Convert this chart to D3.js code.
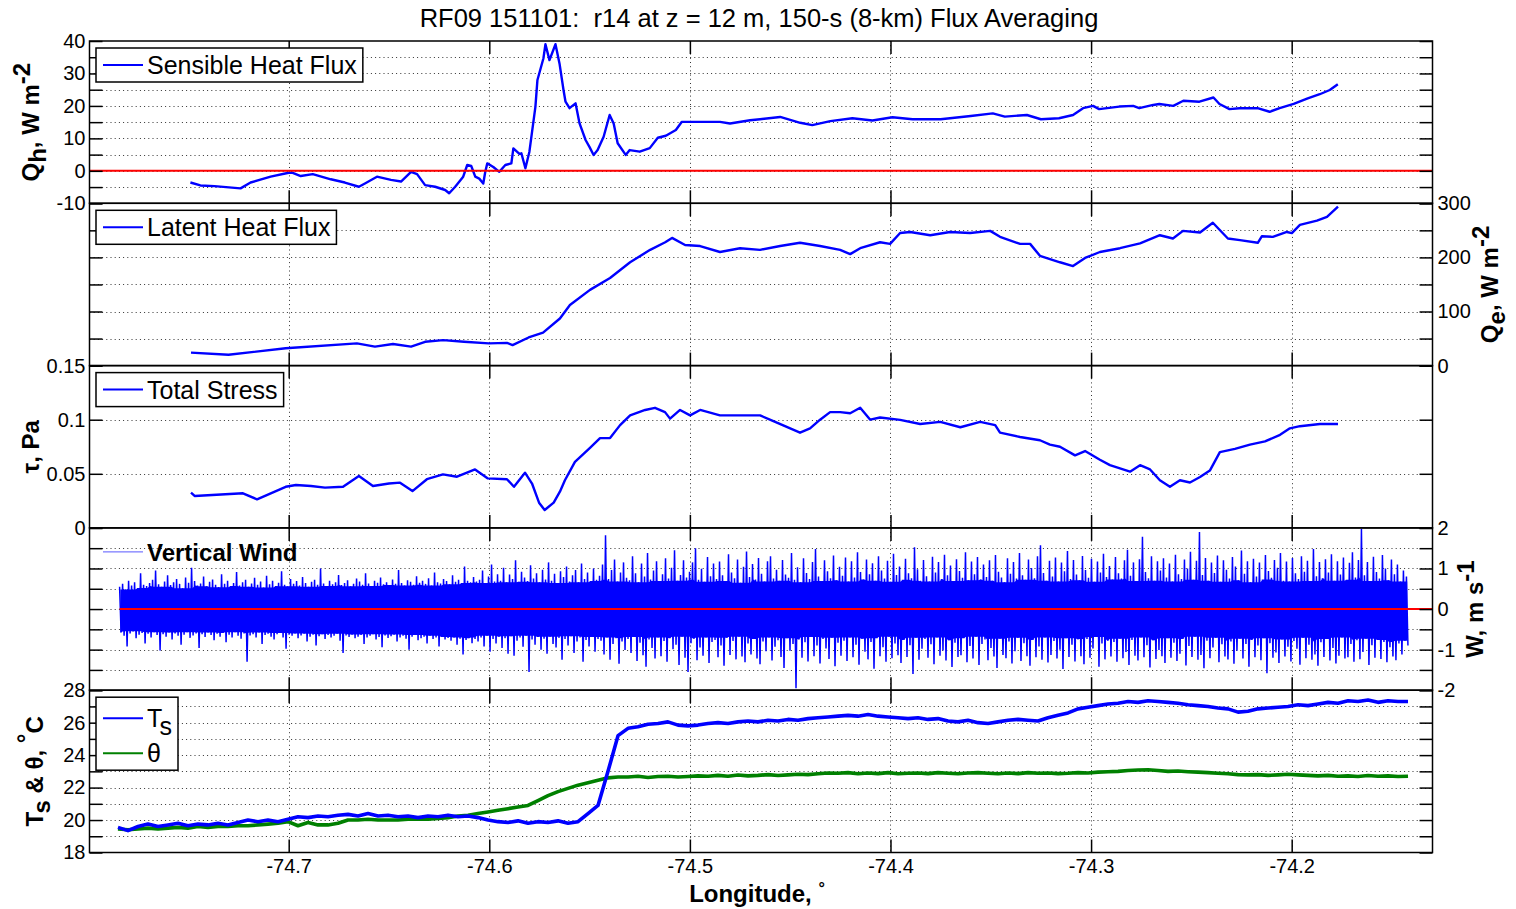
<!DOCTYPE html>
<html><head><meta charset="utf-8">
<script src="https://cdn.jsdelivr.net/npm/d3@7"></script>
<style>
body{margin:0;background:#fff;}
text{font-family:"Liberation Sans",Arial,Helvetica,sans-serif;}
</style></head><body>
<svg id="chart" width="1516" height="909"></svg>
<script>
// ---------------- data ----------------
const lonDomain = [-74.7993, -74.1298];
const lonTicks = [-74.7, -74.6, -74.5, -74.4, -74.3, -74.2];

// Sensible heat flux, W m-2
const qhLon = [-74.749,-74.744,-74.737,-74.724,-74.719,-74.709,-74.700,-74.698,-74.694,-74.688,
  -74.679,-74.672,-74.665,-74.662,-74.656,-74.649,-74.644,-74.639,-74.636,-74.632,
  -74.627,-74.622,-74.620,-74.617,-74.613,-74.611,-74.609,-74.607,-74.605,-74.603,
  -74.602,-74.601,-74.598,-74.595,-74.592,-74.589,-74.588,-74.585,-74.584,-74.582,
  -74.580,-74.577,-74.576,-74.573,-74.572,-74.570,-74.567,-74.565,-74.563,-74.562,
  -74.560,-74.557,-74.555,-74.552,-74.550,-74.548,-74.546,-74.543,-74.540,-74.538,
  -74.536,-74.532,-74.530,-74.525,-74.520,-74.516,-74.512,-74.507,-74.504,-74.495,
  -74.485,-74.480,-74.470,-74.465,-74.455,-74.445,-74.439,-74.430,-74.419,-74.409,
  -74.399,-74.389,-74.375,-74.360,-74.349,-74.343,-74.332,-74.325,-74.316,-74.309,
  -74.304,-74.299,-74.296,-74.286,-74.279,-74.276,-74.269,-74.266,-74.259,-74.254,
  -74.246,-74.239,-74.236,-74.231,-74.226,-74.217,-74.211,-74.206,-74.199,-74.192,
  -74.186,-74.181,-74.177];
const qhVal = [-3.6,-4.5,-4.7,-5.4,-3.6,-1.8,-0.6,-0.6,-1.6,-1.0,
  -2.6,-3.6,-4.9,-3.9,-1.8,-2.8,-3.3,-0.3,-1.0,-4.4,
  -4.9,-5.9,-6.9,-4.9,-1.8,1.8,1.5,-1.8,-2.4,-3.9,
  -0.3,2.3,1.2,-0.3,1.8,2.3,6.9,5.2,5.4,0.8,
  5.9,19.8,28.0,34.7,39.0,34.1,39.0,33.1,24.9,21.3,
  19.3,20.8,14.6,9.5,7.3,4.9,6.4,10.5,17.2,14.6,
  8.5,4.9,6.4,5.9,7.0,10.2,10.8,12.6,15.1,15.1,
  15.1,14.6,15.6,15.9,16.6,14.8,14.1,15.3,16.2,15.5,
  16.5,15.9,15.9,16.9,17.7,16.7,17.2,15.9,16.2,17.2,
  19.3,20.0,19.0,19.8,20.0,19.3,20.3,20.6,20.0,21.6,
  21.3,22.6,20.6,19.0,19.3,19.3,18.2,19.3,20.6,22.3,
  23.6,24.9,26.7];

// Latent heat flux, W m-2
const qeLon = [-74.7487,-74.730,-74.7015,-74.666,-74.657,-74.648,-74.639,-74.632,-74.623,-74.6126,
  -74.6002,-74.5912,-74.5884,-74.5804,-74.5732,-74.5648,-74.5598,-74.5498,-74.5398,-74.5298,
  -74.5198,-74.5123,-74.5089,-74.5024,-74.4949,-74.4850,-74.4750,-74.4650,-74.4550,-74.4451,
  -74.4351,-74.4251,-74.4201,-74.4151,-74.4052,-74.4002,-74.3952,-74.3902,-74.3802,-74.3703,
  -74.3603,-74.3503,-74.3454,-74.3354,-74.3304,-74.3255,-74.3155,-74.3090,-74.3030,-74.2956,
  -74.2856,-74.2756,-74.2657,-74.2592,-74.2542,-74.2457,-74.2393,-74.2318,-74.2258,-74.2169,
  -74.2149,-74.2094,-74.2024,-74.1999,-74.1959,-74.1874,-74.1824,-74.1769];
const qeVal = [24,20,32,41,35,40,35,44,47,44,
  41,42,38,52,61,87,112,140,162,191,
  214,228,236,223,221,210,217,214,221,227,
  221,214,206,217,228,225,245,247,241,247,
  245,249,238,225,225,203,191,184,199,210,
  217,226,241,235,249,246,264,235,232,227,
  239,238,247,245,260,268,275,294];

// Total stress, Pa
const tauLon = [-74.7487,-74.7469,-74.7228,-74.7158,-74.7015,-74.6964,-74.6889,-74.6819,-74.6729,-74.6650,
  -74.6580,-74.6500,-74.6445,-74.6383,-74.6311,-74.6231,-74.6161,-74.6071,-74.6009,-74.5912,
  -74.5877,-74.5822,-74.5787,-74.5752,-74.5724,-74.5679,-74.5648,-74.5623,-74.5573,-74.5498,
  -74.5448,-74.5398,-74.5348,-74.5298,-74.5223,-74.5174,-74.5124,-74.5099,-74.5049,-74.4999,
  -74.4949,-74.4850,-74.4750,-74.4650,-74.4575,-74.4500,-74.4451,-74.4401,-74.4351,-74.4301,
  -74.4251,-74.4201,-74.4151,-74.4101,-74.4052,-74.3952,-74.3852,-74.3752,-74.3652,-74.3553,
  -74.3478,-74.3454,-74.3354,-74.3255,-74.3205,-74.3155,-74.3080,-74.3030,-74.2956,-74.2906,
  -74.2806,-74.2756,-74.2706,-74.2657,-74.2607,-74.2557,-74.2507,-74.2457,-74.2408,-74.2358,
  -74.2283,-74.2208,-74.2133,-74.2058,-74.2009,-74.1959,-74.1859,-74.1769];
const tauVal = [0.0326,0.0295,0.032,0.0264,0.038,0.0397,0.0387,0.0372,0.038,0.048,
  0.0387,0.041,0.0418,0.034,0.045,0.0495,0.0473,0.054,0.0458,0.045,
  0.038,0.051,0.041,0.0233,0.0165,0.0233,0.0335,0.044,0.061,0.074,
  0.083,0.083,0.095,0.104,0.109,0.111,0.107,0.101,0.109,0.104,
  0.109,0.104,0.104,0.104,0.098,0.092,0.088,0.092,0.100,0.107,
  0.107,0.106,0.111,0.100,0.102,0.0998,0.096,0.098,0.093,0.098,
  0.095,0.088,0.084,0.081,0.077,0.075,0.067,0.071,0.063,0.058,
  0.052,0.058,0.054,0.044,0.038,0.044,0.042,0.047,0.053,0.070,
  0.073,0.077,0.080,0.086,0.092,0.094,0.096,0.096];

// Vertical wind, m s-1: upper and lower extremes of each sample bin,
// bins evenly spaced between wLonStart and wLonEnd
const wLonStart = -74.7843, wLonEnd = -74.1413;
const wHi = [
  0.55,0.62,0.48,0.70,0.58,0.66,0.52,0.88,0.60,0.57,
  0.64,0.72,0.95,0.61,0.55,0.68,0.83,0.59,0.66,0.74,
  0.62,0.51,0.78,0.65,1.02,0.69,0.58,0.63,0.80,0.56,
  0.67,0.73,0.60,0.54,0.86,0.62,0.70,0.57,0.64,0.91,
  0.58,0.66,0.72,0.55,0.63,0.77,0.60,0.68,0.53,0.82,
  0.61,0.70,0.57,0.65,0.93,0.60,0.56,0.74,0.62,0.69,
  0.58,0.79,0.64,0.55,0.67,0.72,0.60,1.00,0.63,0.57,
  0.70,0.61,0.66,0.84,0.59,0.64,0.71,0.56,0.62,0.75,
  0.68,0.60,0.88,0.63,0.57,0.70,0.65,0.78,0.61,0.66,
  0.59,0.73,0.62,0.96,0.64,0.58,0.71,0.67,0.60,0.81,
  0.65,0.70,0.62,0.76,0.58,0.90,0.66,0.63,0.74,0.69,
  0.61,0.83,0.67,0.72,0.64,1.05,0.70,0.66,0.79,0.68,
  0.72,0.95,0.64,0.80,1.10,0.68,0.86,0.70,1.02,0.66,
  0.85,0.74,1.20,0.67,0.92,0.78,0.69,1.08,0.75,0.88,
  0.66,0.97,0.73,1.15,0.70,0.87,0.64,0.93,0.79,1.05,
  0.68,0.83,0.96,0.66,1.12,0.74,0.90,0.69,1.00,0.72,
  0.82,1.10,1.82,0.74,0.96,1.22,0.68,0.90,1.15,0.77,
  0.71,1.30,0.88,0.66,1.12,0.80,1.38,0.73,0.95,1.18,
  0.69,0.86,1.25,0.75,1.02,1.45,0.70,0.84,1.20,0.78,
  0.92,1.15,1.50,0.72,0.99,0.67,1.28,0.81,1.12,0.74,
  1.17,0.83,0.69,1.35,0.90,0.76,1.22,0.65,1.04,1.42,
  0.79,1.11,0.73,1.26,0.87,0.68,1.18,1.30,0.75,0.97,
  0.70,1.21,0.85,0.77,1.38,0.72,1.03,0.66,1.25,0.89,
  0.74,1.16,1.48,0.80,0.69,1.20,0.93,0.76,1.32,0.71,
  1.04,0.82,1.27,0.68,1.18,0.78,1.40,0.91,0.73,1.22,
  0.86,1.13,0.70,1.30,0.95,0.75,1.19,0.67,1.36,0.84,
  1.05,0.72,1.24,0.88,0.76,1.52,0.98,0.70,1.21,0.81,
  0.68,1.29,0.90,1.16,0.74,1.34,0.83,1.07,0.69,1.23,
  0.94,0.77,1.40,0.71,1.17,0.86,1.28,0.73,1.10,0.79,
  1.20,0.70,1.33,0.92,0.78,0.66,1.25,0.87,1.16,0.75,
  1.38,0.83,0.72,1.22,1.01,0.76,1.30,1.57,0.89,0.70,
  1.19,0.80,1.27,0.68,1.15,0.93,1.43,0.74,1.21,0.85,
  0.71,1.31,0.96,0.77,1.24,0.67,1.17,0.90,1.36,0.79,
  1.06,0.73,1.28,0.88,0.75,1.20,1.46,0.82,1.15,0.69,
  1.23,1.78,0.91,0.76,1.30,0.70,1.18,0.95,1.25,0.78,
  1.12,0.68,1.34,0.86,0.74,1.22,1.00,1.41,0.72,1.19,
  1.90,0.84,1.26,0.70,1.15,0.89,1.32,0.67,1.20,0.97,
  0.75,1.28,1.05,0.71,1.44,0.87,1.18,0.66,1.24,0.80,
  1.15,0.73,1.33,0.94,0.77,1.21,1.02,1.38,0.70,1.17,
  0.68,1.26,0.88,0.74,1.30,0.92,1.19,0.69,1.48,0.81,
  1.16,0.76,1.23,0.90,1.35,0.70,1.18,0.85,1.27,0.72,
  1.14,1.40,0.78,1.21,1.97,0.83,1.16,0.69,1.29,0.91,
  0.75,1.33,1.00,0.71,1.22,0.86,1.10,0.68,0.95,0.80];
const wLo = [
  -0.58,-0.66,-0.92,-0.60,-0.55,-0.72,-0.63,-0.59,-0.85,-0.61,
  -0.70,-0.57,-0.64,-1.02,-0.62,-0.68,-0.58,-0.75,-0.60,-0.66,
  -0.88,-0.63,-0.57,-0.71,-0.65,-0.60,-0.96,-0.62,-0.69,-0.58,
  -0.64,-0.77,-0.61,-0.68,-0.59,-0.82,-0.63,-0.70,-0.57,-0.66,
  -0.73,-0.60,-1.30,-0.65,-0.62,-0.70,-0.58,-0.86,-0.64,-0.61,
  -0.68,-0.75,-0.62,-0.59,-0.70,-0.98,-0.63,-0.66,-0.60,-0.72,
  -0.65,-0.61,-0.80,-0.68,-0.63,-0.90,-0.67,-0.62,-0.74,-0.64,
  -0.70,-0.66,-0.61,-0.78,-1.08,-0.65,-0.69,-0.63,-0.72,-0.68,
  -0.64,-0.86,-0.70,-0.66,-0.62,-0.75,-0.69,-0.94,-0.65,-0.71,
  -0.67,-0.63,-0.80,-0.70,-0.66,-0.73,-1.00,-0.68,-0.64,-0.77,
  -0.72,-0.68,-0.85,-0.66,-0.74,-0.70,-0.92,-0.69,-0.75,-0.71,
  -0.78,-0.70,-0.88,-0.73,-1.12,-0.76,-0.72,-0.84,-0.74,-0.80,
  -0.70,-0.92,-0.66,-1.05,-0.74,-0.85,-0.68,-0.96,-0.72,-1.10,
  -0.67,-1.15,-0.78,-0.70,-0.93,-0.66,-1.55,-0.75,-0.88,-0.69,
  -1.00,-0.73,-1.10,-0.68,-0.86,-0.95,-0.71,-1.25,-0.74,-0.90,
  -0.67,-1.08,-0.80,-0.70,-1.30,-0.76,-0.92,-0.69,-1.05,-0.74,
  -0.78,-1.12,-0.70,-1.25,-0.86,-0.72,-1.35,-0.80,-1.01,-0.74,
  -1.08,-0.69,-1.28,-0.83,-1.14,-1.42,-0.75,-0.96,-1.22,-0.70,
  -1.16,-0.79,-1.30,-0.72,-0.99,-0.88,-1.38,-0.68,-1.20,-1.55,
  -0.84,-0.73,-1.26,-0.95,-1.15,-0.70,-1.33,-0.81,-0.76,-1.19,
  -0.90,-1.40,-0.71,-1.13,-0.79,-1.24,-0.68,-1.17,-1.31,-0.85,
  -1.12,-0.74,-1.22,-1.36,-0.80,-1.04,-0.70,-1.27,-0.93,-0.77,
  -1.18,-1.45,-0.72,-1.03,-0.86,-1.95,-0.75,-1.20,-0.82,-1.29,
  -0.69,-1.16,-0.90,-1.34,-0.74,-0.97,-1.23,-0.71,-1.41,-0.83,
  -1.15,-0.78,-1.28,-0.70,-1.19,-0.88,-1.37,-0.73,-1.05,-1.24,
  -0.81,-1.47,-0.72,-1.16,-0.94,-1.30,-0.68,-1.21,-0.85,-1.14,
  -1.33,-0.76,-1.18,-0.89,-1.60,-0.71,-1.25,-0.98,-0.74,-1.20,
  -0.87,-1.36,-0.70,-1.15,-1.02,-1.27,-0.77,-1.43,-0.83,-1.18,
  -1.14,-0.72,-1.31,-0.91,-1.22,-0.68,-1.38,-0.86,-0.75,-1.26,
  -0.96,-1.17,-1.45,-0.73,-1.13,-1.21,-0.80,-1.34,-1.04,-0.71,
  -1.28,-0.84,-1.16,-1.40,-0.76,-1.19,-0.92,-1.25,-0.70,-1.32,
  -1.13,-0.79,-1.22,-1.00,-1.48,-0.72,-1.18,-0.88,-1.29,-0.75,
  -1.16,-1.36,-0.74,-1.20,-0.97,-0.69,-1.42,-0.85,-1.24,-0.78,
  -1.17,-0.81,-1.30,-0.73,-1.21,-1.06,-1.38,-0.76,-1.15,-1.27,
  -0.70,-1.19,-0.89,-1.44,-0.77,-1.23,-1.01,-1.16,-1.33,-0.72,
  -1.20,-0.83,-1.28,-1.10,-0.74,-1.39,-0.91,-1.18,-0.68,-1.25,
  -1.13,-1.46,-0.78,-1.21,-0.95,-0.71,-1.31,-0.87,-1.17,-1.24,
  -0.80,-1.35,-1.03,-0.73,-1.22,-0.86,-1.42,-0.76,-1.19,-0.90,
  -1.26,-0.72,-1.58,-0.84,-1.20,-1.07,-1.33,-0.75,-1.17,-0.93,
  -1.29,-0.79,-0.98,-1.37,-0.71,-1.21,-0.88,-1.25,-1.12,-1.40,
  -0.82,-1.18,-0.74,-1.27,-0.96,-1.34,-1.15,-0.70,-1.22,-1.19,
  -0.86,-1.30,-0.77,-1.24,-1.06,-0.73,-1.38,-0.89,-1.20,-0.76,
  -1.23,-0.81,-1.31,-0.94,-1.17,-1.26,-0.85,-1.12,-0.78,-0.90];

// Sonic temperature and potential temperature, deg C,
// samples evenly spaced between tLonStart and tLonEnd
const tLonStart = -74.7851, tLonEnd = -74.1420;
const tsVal = [
  19.55,19.35,19.6,19.75,19.6,19.7,19.8,19.65,19.75,19.7,
  19.8,19.7,19.85,20.0,19.9,20.0,19.9,20.05,20.2,20.15,
  20.25,20.2,20.3,20.35,20.25,20.4,20.25,20.3,20.2,20.25,
  20.15,20.25,20.2,20.3,20.2,20.25,20.15,20.0,19.9,19.85,
  19.95,19.8,19.9,19.85,19.95,19.8,19.9,20.4,20.9,23.0,
  25.2,25.65,25.75,25.9,25.95,26.05,25.85,25.8,25.85,25.95,
  26.0,25.95,26.05,26.1,26.05,26.15,26.1,26.2,26.15,26.25,
  26.3,26.35,26.4,26.45,26.4,26.5,26.4,26.35,26.3,26.25,
  26.3,26.2,26.25,26.1,26.05,26.15,26.0,25.95,26.05,26.15,
  26.2,26.15,26.1,26.3,26.45,26.6,26.85,26.95,27.05,27.15,
  27.2,27.3,27.25,27.35,27.3,27.25,27.2,27.1,27.05,27.0,
  26.9,26.85,26.65,26.7,26.85,26.9,26.95,27.0,27.1,27.05,
  27.15,27.25,27.2,27.35,27.3,27.4,27.25,27.35,27.3,27.3];
const thetaVal = [
  19.45,19.4,19.45,19.5,19.45,19.5,19.55,19.5,19.6,19.55,
  19.6,19.6,19.65,19.65,19.7,19.75,19.8,19.9,19.65,19.85,
  19.7,19.7,19.8,20.0,20.0,20.05,20.0,20.0,20.0,20.05,
  20.05,20.05,20.1,20.15,20.25,20.3,20.4,20.5,20.6,20.7,
  20.8,20.9,21.2,21.5,21.75,21.95,22.15,22.3,22.45,22.6,
  22.65,22.65,22.7,22.62,22.68,22.7,22.65,22.68,22.72,22.7,
  22.75,22.7,22.78,22.72,22.75,22.8,22.74,22.78,22.82,22.8,
  22.85,22.9,22.88,22.92,22.85,22.9,22.86,22.92,22.85,22.88,
  22.9,22.86,22.92,22.88,22.85,22.9,22.92,22.88,22.85,22.9,
  22.86,22.92,22.88,22.9,22.86,22.88,22.92,22.9,22.95,22.98,
  23.0,23.05,23.08,23.1,23.05,23.0,23.02,22.98,22.95,22.92,
  22.88,22.85,22.8,22.78,22.8,22.75,22.78,22.82,22.78,22.75,
  22.72,22.75,22.7,22.72,22.68,22.74,22.7,22.72,22.68,22.7];

// axis ticks and labels per panel
const qhTicks = [-10,-5,0,5,10,15,20,25,30,35,40], qhLabels = [-10,0,10,20,30,40];
const qeTicks = [0,50,100,150,200,250,300], qeLabels = [0,100,200,300];
const tauTicks = [0,0.05,0.1,0.15], tauLabels = [0,0.05,0.1,0.15];
const wTicks = [-2,-1.5,-1,-0.5,0,0.5,1,1.5,2], wLabels = [-2,-1,0,1,2];
const tTicks = [18,19,20,21,22,23,24,25,26,27,28], tLabels = [18,20,22,24,26,28];

// ---------------- layout ----------------
const W = 1516, H = 909;
const left = 89.5, right = 1432.5, top0 = 41, panelH = 162.3;
const BLUE = "#0000ff", GREEN = "#008000", RED = "#ff0000";
const FONT = '"Liberation Sans", Arial, Helvetica, sans-serif';

const svg = d3.select("#chart");
svg.append("rect").attr("width", W).attr("height", H).attr("fill", "#fff");

const x = d3.scaleLinear().domain(lonDomain).range([left, right]);
const zip = (a, b) => a.map((v, i) => [v, b[i]]);
const even = (a, b, n) => d3.range(n).map(i => a + (b - a) * i / (n - 1));

function makePanel(i, domain, ticks, labels, side) {
  const top = top0 + i * panelH, bottom = top + panelH;
  const y = d3.scaleLinear().domain(domain).range([bottom, top]);
  const g = svg.append("g");
  const clipId = "clip" + i;
  svg.append("clipPath").attr("id", clipId).append("rect")
    .attr("x", left).attr("y", top).attr("width", right - left).attr("height", panelH);

  // dotted grid
  const grid = g.append("g").attr("stroke", "#333").attr("stroke-width", 1)
    .attr("stroke-dasharray", "1,3.2");
  ticks.filter(t => t !== domain[0] && t !== domain[1]).forEach(t => {
    grid.append("line").attr("x1", left).attr("x2", right)
      .attr("y1", Math.round(y(t)) + 0.5).attr("y2", Math.round(y(t)) + 0.5);
  });
  lonTicks.forEach(t => {
    grid.append("line").attr("y1", top).attr("y2", bottom)
      .attr("x1", Math.round(x(t)) + 0.5).attr("x2", Math.round(x(t)) + 0.5);
  });

  const data = g.append("g").attr("clip-path", `url(#${clipId})`);
  return { g, y, top, bottom, data, ticks, labels, side };
}

function finishPanel(p, showX) {
  const fmt = d => p.labels.includes(d) ? String(d) : "";
  const style = sel => {
    sel.attr("font-size", 20).attr("font-family", FONT);
    sel.select(".domain").remove();
    sel.selectAll(".tick line").attr("stroke", "#000").attr("stroke-width", 1.5);
    sel.selectAll(".tick text").attr("fill", "#000");
  };
  p.g.append("g").attr("transform", `translate(${left},0)`)
    .call(d3.axisLeft(p.y).tickValues(p.ticks).tickSize(-13).tickPadding(4)
      .tickFormat(p.side === "left" ? fmt : () => "")).call(style);
  p.g.append("g").attr("transform", `translate(${right},0)`)
    .call(d3.axisRight(p.y).tickValues(p.ticks).tickSize(-13).tickPadding(5)
      .tickFormat(p.side === "right" ? fmt : () => "")).call(style);
  p.g.append("g").attr("transform", `translate(0,${p.top})`)
    .call(d3.axisTop(x).tickValues(lonTicks).tickSize(-13).tickFormat(() => "")).call(style);
  p.g.append("g").attr("transform", `translate(0,${p.bottom})`)
    .call(d3.axisBottom(x).tickValues(lonTicks).tickSize(-13).tickPadding(6)
      .tickFormat(showX ? d => String(d) : () => "")).call(style);
  p.g.append("rect").attr("x", left).attr("y", p.top).attr("width", right - left)
    .attr("height", panelH).attr("fill", "none").attr("stroke", "#000").attr("stroke-width", 1.5);
}

function addText(sel, parts) {
  parts.forEach(([s, mode], k) => {
    const prev = k > 0 ? parts[k - 1][1] : null;
    let dy = 0;
    if (prev === "sub") dy -= 0.3; if (prev === "sup") dy += 0.38;
    if (mode === "sub") dy += 0.3; if (mode === "sup") dy -= 0.38;
    const t = sel.append("tspan").text(s);
    if (dy) t.attr("dy", dy + "em");
  });
}

function yLabel(bx, cy, parts) {
  const t = svg.append("text").attr("transform", `translate(${bx},${cy}) rotate(-90)`)
    .attr("text-anchor", "middle").attr("font-size", 24).attr("font-weight", "bold")
    .attr("font-family", FONT).attr("fill", "#000").style("white-space", "pre");
  addText(t, parts);
}

function legend(p, entries, boxed) {
  const lg = p.g.append("g");
  const bTop = p.top + 7;
  const rect = lg.append("rect").attr("x", 96).attr("y", bTop).attr("fill", "#fff")
    .attr("stroke", "#000").attr("stroke-width", 1.5);
  let maxW = 0;
  entries.forEach((e, k) => {
    const cy = bTop + (entries.length === 1 ? 17 : 21) + k * 35;
    lg.append("line").attr("x1", 103).attr("x2", 143).attr("y1", cy).attr("y2", cy)
      .attr("stroke", e.color).attr("stroke-width", e.width).attr("opacity", e.opacity || 1);
    const t = lg.append("text").attr("x", 147).attr("y", cy).attr("dy", "0.36em")
      .attr("font-size", e.size || 25).attr("font-weight", e.weight || "normal")
      .attr("font-family", FONT).attr("fill", "#000");
    addText(t, e.parts);
    maxW = Math.max(maxW, t.node().getComputedTextLength());
  });
  if (boxed) {
    rect.attr("width", 147 + maxW + 6 - 96)
      .attr("height", entries.length === 1 ? 34 : 73);
  } else rect.remove();
}

const line = y => d3.line().x(d => x(d[0])).y(d => y(d[1]));

// ---- panel 1: sensible heat flux
const p1 = makePanel(0, [-10, 40], qhTicks, qhLabels, "left");
p1.data.append("path").datum(zip(qhLon, qhVal)).attr("d", line(p1.y))
  .attr("fill", "none").attr("stroke", BLUE).attr("stroke-width", 2.4).attr("stroke-linejoin", "round");
p1.data.append("line").attr("x1", x(lonDomain[0])).attr("x2", x(lonDomain[1]))
  .attr("y1", p1.y(0)).attr("y2", p1.y(0)).attr("stroke", RED).attr("stroke-width", 2);
finishPanel(p1, false);
legend(p1, [{ parts: [["Sensible Heat Flux"]], color: BLUE, width: 2 }], true);

// ---- panel 2: latent heat flux
const p2 = makePanel(1, [0, 300], qeTicks, qeLabels, "right");
p2.data.append("path").datum(zip(qeLon, qeVal)).attr("d", line(p2.y))
  .attr("fill", "none").attr("stroke", BLUE).attr("stroke-width", 2.4).attr("stroke-linejoin", "round");
finishPanel(p2, false);
legend(p2, [{ parts: [["Latent Heat Flux"]], color: BLUE, width: 2 }], true);

// ---- panel 3: total stress
const p3 = makePanel(2, [0, 0.15], tauTicks, tauLabels, "left");
p3.data.append("path").datum(zip(tauLon, tauVal)).attr("d", line(p3.y))
  .attr("fill", "none").attr("stroke", BLUE).attr("stroke-width", 2.4).attr("stroke-linejoin", "round");
finishPanel(p3, false);
legend(p3, [{ parts: [["Total Stress"]], color: BLUE, width: 2 }], true);

// ---- panel 4: vertical wind (min/max trace per bin)
const p4 = makePanel(3, [-2, 2], wTicks, wLabels, "right");
const nW = Math.min(wHi.length, wLo.length);
const wStep = (wLonEnd - wLonStart) / nW;
const wPts = [];
for (let i = 0; i < nW; i++) {
  wPts.push([wLonStart + i * wStep, wHi[i]]);
  wPts.push([wLonStart + (i + 0.5) * wStep, wLo[i]]);
}
// dense core: range reached by every bin in a short neighbourhood
const wCore = d3.range(nW).map(i => {
  const a = Math.max(0, i - 3), b = Math.min(nW, i + 4);
  return { lon: wLonStart + (i + 0.25) * wStep,
           hi: d3.min(wHi.slice(a, b)), lo: d3.max(wLo.slice(a, b)) };
});
p4.data.append("path").datum(wCore)
  .attr("d", d3.area().x(d => x(d.lon)).y0(d => p4.y(d.lo)).y1(d => p4.y(d.hi)))
  .attr("fill", BLUE);
p4.data.append("path").datum(wPts).attr("d", line(p4.y))
  .attr("fill", "none").attr("stroke", BLUE).attr("stroke-width", 1.5).attr("stroke-linejoin", "bevel");
p4.data.append("line").attr("x1", x(wLonStart)).attr("x2", x(lonDomain[1]))
  .attr("y1", p4.y(0)).attr("y2", p4.y(0)).attr("stroke", RED).attr("stroke-width", 2);
finishPanel(p4, false);
legend(p4, [{ parts: [["Vertical Wind"]], color: BLUE, width: 1, opacity: 0.65, weight: "bold", size: 24 }], false);

// ---- panel 5: temperatures
const p5 = makePanel(4, [18, 28], tTicks, tLabels, "left");
const tLon = even(tLonStart, tLonEnd, tsVal.length);
p5.data.append("path").datum(zip(tLon, thetaVal)).attr("d", line(p5.y))
  .attr("fill", "none").attr("stroke", GREEN).attr("stroke-width", 3.6).attr("stroke-linejoin", "round");
p5.data.append("path").datum(zip(tLon, tsVal)).attr("d", line(p5.y))
  .attr("fill", "none").attr("stroke", BLUE).attr("stroke-width", 3.6).attr("stroke-linejoin", "round");
finishPanel(p5, true);
legend(p5, [
  { parts: [["T"], ["s", "sub"]], color: BLUE, width: 2 },
  { parts: [["θ"]], color: GREEN, width: 2 }
], true);

// ---- axis titles
yLabel(39, p1.top + panelH / 2, [["Q"], ["h", "sub"], [", W m"], ["-2", "sup"]]);
yLabel(1498, p2.top + panelH / 2, [["Q"], ["e", "sub"], [", W m"], ["-2", "sup"]]);
yLabel(39, p3.top + panelH / 2, [["τ, Pa"]]);
yLabel(1483, p4.top + panelH / 2, [["W, m s"], ["-1", "sup"]]);
yLabel(43, p5.top + panelH / 2, [["T"], ["s", "sub"], [" & θ, "], ["°", "sup"], ["C"]]);

svg.append("text").attr("x", 759).attr("y", 27).attr("text-anchor", "middle")
  .attr("font-size", 25.5).attr("font-family", FONT).attr("fill", "#000")
  .style("white-space", "pre")
  .text("RF09 151101:  r14 at z = 12 m, 150-s (8-km) Flux Averaging");

const xl = svg.append("text").attr("x", 757).attr("y", 902).attr("text-anchor", "middle")
  .attr("font-size", 24).attr("font-weight", "bold").attr("font-family", FONT).attr("fill", "#000");
xl.append("tspan").text("Longitude, ");
xl.append("tspan").attr("font-size", 16).attr("dy", "-0.5em").text("°");
</script>
</body></html>
